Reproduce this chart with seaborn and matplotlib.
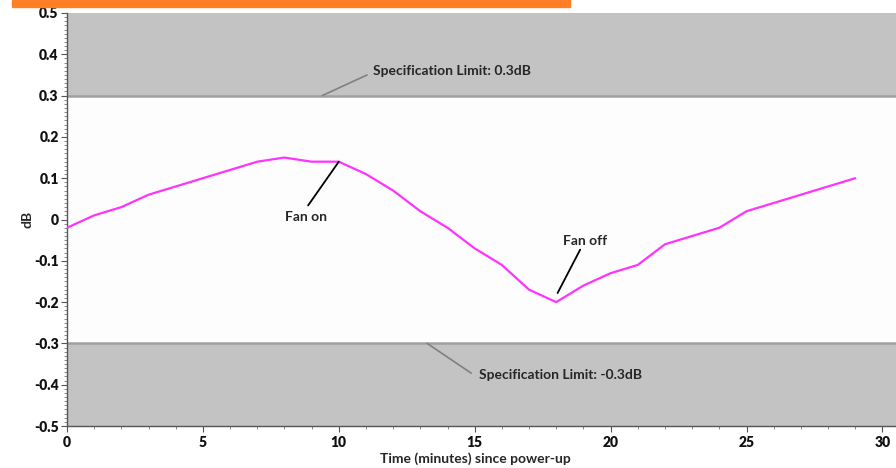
import pandas as pd
import matplotlib.pyplot as plt
import seaborn as sns
from matplotlib.patches import Rectangle
from matplotlib.ticker import MultipleLocator

# readings, one per minute
minutes = list(range(0, 30))
db_values = [-0.02, 0.01, 0.03, 0.06, 0.08, 0.10, 0.12, 0.14, 0.15, 0.14,
             0.14, 0.11, 0.07, 0.02, -0.02, -0.07, -0.11, -0.17, -0.20, -0.16,
             -0.13, -0.11, -0.06, -0.04, -0.02, 0.02, 0.04, 0.06, 0.08, 0.10]

spec_upper = 0.3
spec_lower = -0.3
spec_labels = ['Specification Limit: 0.3dB', 'Specification Limit: -0.3dB']
x_ticks = [0, 5, 10, 15, 20, 25, 30]
y_ticks = [0.5, 0.4, 0.3, 0.2, 0.1, 0, -0.1, -0.2, -0.3, -0.4, -0.5]

df = pd.DataFrame({'minute': minutes, 'dB': db_values})

sns.set_style('white')
plt.rcParams['font.family'] = ['Lato', 'DejaVu Sans']

fig = plt.figure(figsize=(8.96, 4.68), dpi=100)
ax = fig.add_axes([67 / 896, 42 / 468, 829 / 896, 413 / 468])
ax.set_facecolor('#fdfdfd')

# orange strip at the very top
fig.patches.append(Rectangle((12 / 896, 1 - 7 / 468), 558 / 896, 7 / 468,
                             transform=fig.transFigure, color='#ff7f27', zorder=0))

# out-of-spec zones
ax.axhspan(spec_upper, 0.5, color='#c3c3c3', lw=0, zorder=0)
ax.axhspan(-0.5, spec_lower, color='#c3c3c3', lw=0, zorder=0)
ax.axhline(spec_upper, color='#a0a0a0', lw=1.8, zorder=1)
ax.axhline(spec_lower, color='#a0a0a0', lw=1.8, zorder=1)

sns.lineplot(data=df, x='minute', y='dB', ax=ax, color='#ff33ff', linewidth=1.6, zorder=3)

ax.set_xlim(0, 30.5)
ax.set_ylim(-0.5, 0.5)
ax.set_xticks(x_ticks)
ax.set_yticks(y_ticks)
ax.set_yticklabels([f'{v:g}' for v in y_ticks])
ax.xaxis.set_minor_locator(MultipleLocator(1))
ax.yaxis.set_minor_locator(MultipleLocator(0.01))
ax.tick_params(axis='both', which='major', direction='out', length=4, width=0.8,
               color='#555555', labelsize=10, labelcolor='#111111', left=True, bottom=True, pad=2)
ax.tick_params(axis='x', which='major', pad=3)
ax.tick_params(axis='both', which='minor', direction='out', length=2, width=0.6,
               color='#777777', left=True, bottom=True)
for lbl in ax.get_xticklabels() + ax.get_yticklabels():
    lbl.set_fontweight('heavy')

ax.set_xlabel('Time (minutes) since power-up', fontsize=10, fontweight='bold')
ax.xaxis.set_label_coords(408 / 829, -26 / 413)
ax.set_ylabel('dB', fontsize=10, fontweight='bold', labelpad=0)

for side in ['top', 'right']:
    ax.spines[side].set_visible(False)
for side in ['left', 'bottom']:
    ax.spines[side].set_color('#555555')
    ax.spines[side].set_linewidth(1.0)

# pointer lines, then their texts
ax.plot([8.87, 10], [0.034, 0.14], color='black', lw=1.3, zorder=4)
ax.plot([18.88, 18.05], [-0.073, -0.178], color='black', lw=1.3, zorder=4)
ax.plot([9.39, 11.04], [spec_upper, 0.35], color='#808080', lw=1.2, zorder=2)
ax.plot([13.25, 14.87], [spec_lower, -0.372], color='#808080', lw=1.2, zorder=2)

ax.text(8.8, 0.005, 'Fan on', fontsize=10, fontweight='bold', ha='center', va='center')
ax.text(19.05, -0.053, 'Fan off', fontsize=10, fontweight='bold', ha='center', va='center')
ax.text(11.26, 0.36, spec_labels[0], fontsize=10, fontweight='bold', ha='left', va='center')
ax.text(15.16, -0.376, spec_labels[1], fontsize=10, fontweight='bold', ha='left', va='center')

fig.savefig('out.png', dpi=100, facecolor='white')
